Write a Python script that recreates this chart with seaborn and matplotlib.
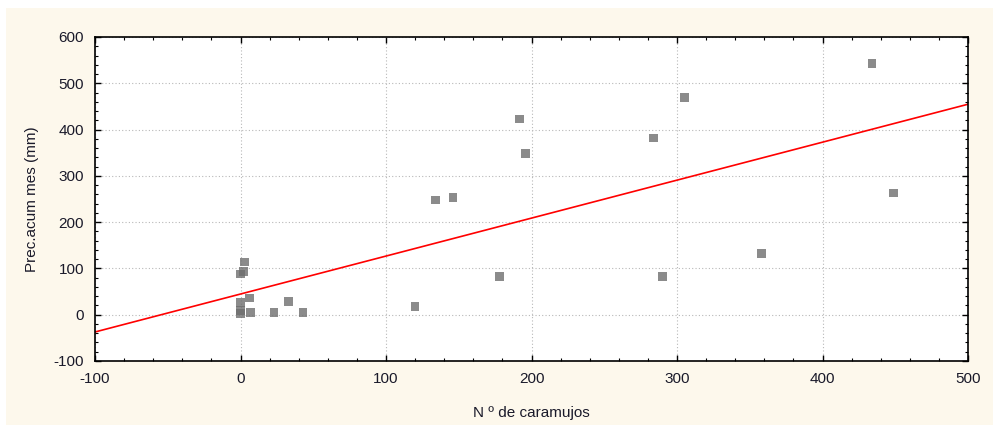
import numpy as np
import pandas as pd
import matplotlib
matplotlib.use("Agg")
import matplotlib.pyplot as plt
from matplotlib.patches import Rectangle
from matplotlib.ticker import MultipleLocator
import seaborn as sns

# datos
caramujos = [0, 0, 0, 2, 3, 6, 7, 23, 33, 43, 0,
             120, 134, 146, 178, 192, 196, 284, 290, 305, 358, 434, 449]
precip = [88, 27, 9, 94, 114, 36, 5, 5, 29, 5, 2,
          17, 248, 253, 82, 423, 348, 382, 82, 469, 132, 542, 263]

df = pd.DataFrame({"caramujos": caramujos, "precip": precip})

sns.set_style("white")
plt.rcParams["font.family"] = ["Liberation Sans", "DejaVu Sans"]
plt.rcParams["axes.unicode_minus"] = False

fig = plt.figure(figsize=(9.93, 4.34), dpi=100)
fig.patch.set_facecolor("white")
# panel crema de fondo
fig.add_artist(Rectangle((6 / 993, 9 / 434), 987 / 993, 417 / 434,
                         transform=fig.transFigure, facecolor="#fdf8ec",
                         edgecolor="none", zorder=-10))

ax = fig.add_axes([95 / 993, 73 / 434, 873 / 993, 324 / 434])
ax.set_facecolor("white")
ax.set_xlim(-100, 500)
ax.set_ylim(-100, 600)

sns.regplot(data=df, x="caramujos", y="precip", ax=ax, ci=None, truncate=False,
            marker="s",
            scatter_kws={"s": 40, "color": "#6e6e6e", "edgecolor": "none", "zorder": 3},
            line_kws={"color": "red", "lw": 1.2, "zorder": 2})

ax.set_xlim(-100, 500)
ax.set_ylim(-100, 600)
ax.xaxis.set_major_locator(MultipleLocator(100))
ax.yaxis.set_major_locator(MultipleLocator(100))
ax.xaxis.set_minor_locator(MultipleLocator(20))
ax.yaxis.set_minor_locator(MultipleLocator(20))
ax.tick_params(which="both", direction="in", top=True, right=True,
               bottom=True, left=True, color="black")
ax.tick_params(which="major", length=4, width=1, labelsize=11, pad=8,
               labelcolor="#1a1a2a")
ax.tick_params(which="minor", length=2.5, width=0.8)
ax.grid(True, which="major", color="#b8b8b8", linestyle=(0, (1, 2)), lw=0.8)
for s in ax.spines.values():
    s.set_color("black")
    s.set_linewidth(1.2)

ax.set_xlabel("N º de caramujos", fontsize=11, labelpad=14, color="#1a1a2a")
ax.set_ylabel("Prec.acum mes (mm)", fontsize=11, labelpad=10, color="#1a1a2a")

plt.savefig("out.png", dpi=100, facecolor=fig.get_facecolor())
